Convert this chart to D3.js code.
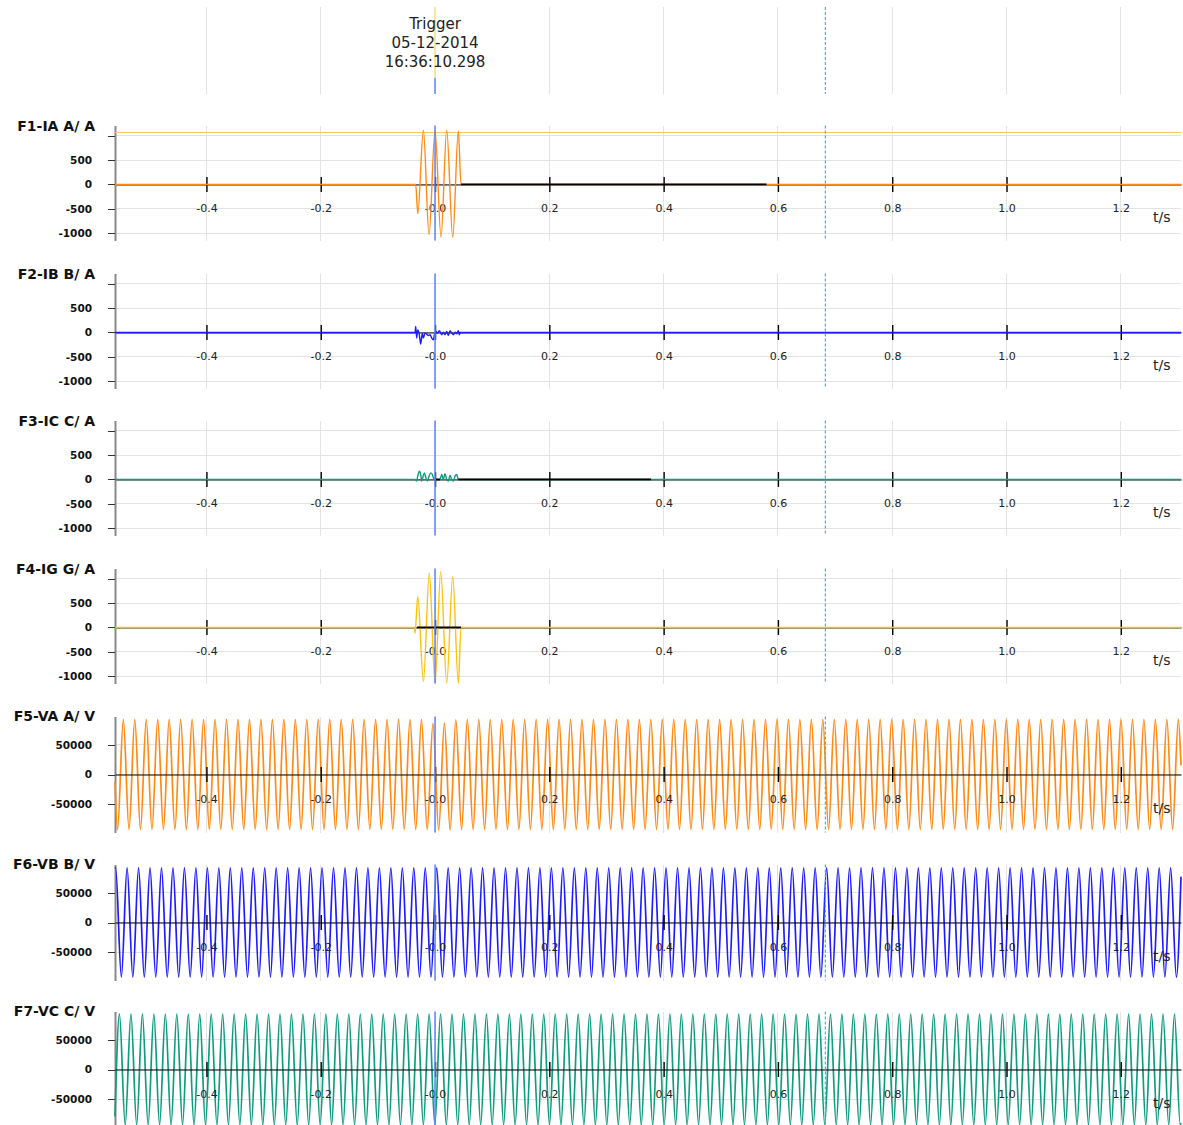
<!DOCTYPE html>
<html>
<head>
<meta charset="utf-8">
<script src="https://cdnjs.cloudflare.com/ajax/libs/d3/7.8.5/d3.min.js"></script>
<style>
  body { margin: 0; background: #fff; }
  text { font-family: "DejaVu Sans", sans-serif; }
</style>
</head>
<body>
<div id="chart"></div>
<script>
// time axis
const timeRange = [-0.56, 1.3053];
const xTicks = [-0.4, -0.2, 0.0, 0.2, 0.4, 0.6, 0.8, 1.0, 1.2];
const xTickLabels = ["-0.4", "-0.2", "-0.0", "0.2", "0.4", "0.6", "0.8", "1.0", "1.2"];
const triggerTime = 0.0;
const cursorTime = 0.683;
const triggerText = ["Trigger", "05-12-2014", "16:36:10.298"];

const channelNames = ["F1-IA A/ A", "F2-IB B/ A", "F3-IC C/ A", "F4-IG G/ A", "F5-VA A/ V", "F6-VB B/ V", "F7-VC C/ V"];
const currentTicks = [1000, 500, 0, -500, -1000];
const currentTickLabels = ["", "500", "0", "-500", "-1000"];
const voltageTicks = [50000, 0, -50000];
const voltageTickLabels = ["50000", "0", "-50000"];

// currents (A), flat zero elsewhere
const iaT = [-0.56, -0.0338, -0.0302, -0.0204, -0.0105, 0.0, 0.0105, 0.0204, 0.031, 0.0408, 0.0455, 1.3053];
const iaV = [0, 0, -603, 1111, -1030, 1110, -1084, 1111, -1084, 1097, 0, 0];
const iaLimit = 1075;
const iaBlack = [[0.0455, 0.58]];

const ibT = [-0.56, -0.035, -0.0338, -0.0321, -0.0303, -0.0274, -0.0251, -0.0222, -0.0204, -0.0175, -0.0146,
  -0.0117, -0.0087, -0.0058, -0.0029, -0.0012, 0.0017, 0.0041, 0.0076, 0.0117, 0.0146, 0.0175, 0.0204,
  0.0233, 0.0262, 0.0292, 0.0321, 0.035, 0.0379, 0.0408, 0.0426, 0.0437, 1.3053];
const ibV = [0, 0, 122, -116, 54, -48, -238, -14, -116, -14, -34,
  -61, -48, -116, -150, -48, 20, -14, 34, -48, 7, -48, 20,
  -61, 34, -14, -48, 7, -27, 34, -48, 0, 0];
const ibBlack = [];

const icT = [-0.56, -0.035, -0.0321, -0.0303, -0.0274, -0.0251, -0.0233, -0.0216, -0.0187, -0.0163, -0.0134,
  -0.0105, -0.0076, -0.0047, -0.0029, -0.0012, 0.0087, 0.0117, 0.0146, 0.0175, 0.0204, 0.0233,
  0.0262, 0.0292, 0.0321, 0.035, 0.0379, 0.0397, 0.0408, 1.3053];
const icV = [0, 0, -34, 68, 170, 102, -34, 34, 136, 48, -34,
  68, 136, 102, 34, 0, 0, 102, 0, 116, 0, -34,
  88, 0, -34, 68, 102, 34, 0, 0];
const icBlack = [[0.0017, 0.0087], [0.0408, 0.378]];

const igT = [-0.56, -0.0362, -0.035, -0.0302, -0.0204, -0.01, 0.0, 0.01, 0.0204, 0.031, 0.0408, 0.0455, 1.3053];
const igV = [0, 0, -117, 638, -1111, 1117, -1146, 1152, -1146, 1049, -1146, 0, 0];
const igBlack = [[-0.0315, 0.0455]];

// voltages (kV): one extreme per half cycle, sampled every halfCycle seconds
const halfCycle = 0.010033;
const vaFirst = -0.5555, vaEdge = [-13, 15];
const vaPeaks = [
  -92.5, 92.5, -92.5, 92.5, -92.5, 92.5, -92.5, 92.5, -92.5, 92.5, -92.5, 92.5, -92.5, 92.5, -92.5, 92.5, -92.5, 92.5, -92.5, 92.5,
  -92.5, 92.5, -92.5, 92.5, -92.5, 92.5, -92.5, 92.5, -92.5, 92.5, -92.5, 92.5, -92.5, 92.5, -92.5, 92.5, -92.5, 92.5, -92.5, 92.5,
  -92.5, 92.5, -92.5, 92.5, -92.5, 92.5, -92.5, 92.5, -92.5, 92.5, -92.5, 92.5, -92.5, 92.5, -92.5, 86.0, -93.5, 86.5, -93.5, 92.0,
  -92.5, 92.5, -92.5, 92.5, -92.5, 92.5, -92.5, 92.5, -92.5, 92.5, -92.5, 92.5, -92.5, 92.5, -92.5, 92.5, -92.5, 92.5, -92.5, 92.5,
  -92.5, 92.5, -92.5, 92.5, -92.5, 92.5, -92.5, 92.5, -92.5, 92.5, -92.5, 92.5, -92.5, 92.5, -92.5, 92.5, -92.5, 92.5, -92.5, 92.5,
  -92.5, 92.5, -92.5, 92.5, -92.5, 92.5, -92.5, 92.5, -92.5, 92.5, -92.5, 92.5, -92.5, 92.5, -92.5, 92.5, -92.5, 92.5, -92.5, 92.5,
  -92.5, 92.5, -92.5, 92.5, -92.5, 92.5, -92.5, 92.5, -92.5, 92.5, -92.5, 92.5, -92.5, 92.5, -92.5, 92.5, -92.5, 92.5, -92.5, 92.5,
  -92.5, 92.5, -92.5, 92.5, -92.5, 92.5, -92.5, 92.5, -92.5, 92.5, -92.5, 92.5, -92.5, 92.5, -92.5, 92.5, -92.5, 92.5, -92.5, 92.5,
  -92.5, 92.5, -92.5, 92.5, -92.5, 92.5, -92.5, 92.5, -92.5, 92.5, -92.5, 92.5, -92.5, 92.5, -92.5, 92.5, -92.5, 92.5, -92.5, 92.5,
  -92.5, 92.5, -92.5, 92.5, -92.5, 92.5];
const vbFirst = -0.5589, vbEdge = [91, 77];
const vbPeaks = [
  91.8, -91.8, 91.8, -91.8, 91.8, -91.8, 91.8, -91.8, 91.8, -91.8, 91.8, -91.8, 91.8, -91.8, 91.8, -91.8, 91.8, -91.8, 91.8, -91.8,
  91.8, -91.8, 91.8, -91.8, 91.8, -91.8, 91.8, -91.8, 91.8, -91.8, 91.8, -91.8, 91.8, -91.8, 91.8, -91.8, 91.8, -91.8, 91.8, -91.8,
  91.8, -91.8, 91.8, -91.8, 91.8, -91.8, 91.8, -91.8, 91.8, -91.8, 91.8, -91.8, 91.8, -91.8, 91.8, -91.8, 91.8, -91.8, 91.8, -91.8,
  91.8, -91.8, 91.8, -91.8, 91.8, -91.8, 91.8, -91.8, 91.8, -91.8, 91.8, -91.8, 91.8, -91.8, 91.8, -91.8, 91.8, -91.8, 91.8, -91.8,
  91.8, -91.8, 91.8, -91.8, 91.8, -91.8, 91.8, -91.8, 91.8, -91.8, 91.8, -91.8, 91.8, -91.8, 91.8, -91.8, 91.8, -91.8, 91.8, -91.8,
  91.8, -91.8, 91.8, -91.8, 91.8, -91.8, 91.8, -91.8, 91.8, -91.8, 91.8, -91.8, 91.8, -91.8, 91.8, -91.8, 91.8, -91.8, 91.8, -91.8,
  91.8, -91.8, 91.8, -91.8, 91.8, -91.8, 91.8, -91.8, 91.8, -91.8, 91.8, -91.8, 91.8, -91.8, 91.8, -91.8, 91.8, -91.8, 91.8, -91.8,
  91.8, -91.8, 91.8, -91.8, 91.8, -91.8, 91.8, -91.8, 91.8, -91.8, 91.8, -91.8, 91.8, -91.8, 91.8, -91.8, 91.8, -91.8, 91.8, -91.8,
  91.8, -91.8, 91.8, -91.8, 91.8, -91.8, 91.8, -91.8, 91.8, -91.8, 91.8, -91.8, 91.8, -91.8, 91.8, -91.8, 91.8, -91.8, 91.8, -91.8,
  91.8, -91.8, 91.8, -91.8, 91.8, -91.8];
const vcFirst = -0.5522, vcEdge = [-79, -90];
const vcPeaks = [
  93.0, -93.0, 93.0, -93.0, 93.0, -93.0, 93.0, -93.0, 93.0, -93.0, 93.0, -93.0, 93.0, -93.0, 93.0, -93.0, 93.0, -93.0, 93.0, -93.0,
  93.0, -93.0, 93.0, -93.0, 93.0, -93.0, 93.0, -93.0, 93.0, -93.0, 93.0, -93.0, 93.0, -93.0, 93.0, -93.0, 93.0, -93.0, 93.0, -93.0,
  93.0, -93.0, 93.0, -93.0, 93.0, -93.0, 93.0, -93.0, 93.0, -93.0, 93.0, -93.0, 93.0, -93.0, 93.0, -93.0, 93.0, -93.0, 93.0, -93.0,
  93.0, -93.0, 93.0, -93.0, 93.0, -93.0, 93.0, -93.0, 93.0, -93.0, 93.0, -93.0, 93.0, -93.0, 93.0, -93.0, 93.0, -93.0, 93.0, -93.0,
  93.0, -93.0, 93.0, -93.0, 93.0, -93.0, 93.0, -93.0, 93.0, -93.0, 93.0, -93.0, 93.0, -93.0, 93.0, -93.0, 93.0, -93.0, 93.0, -93.0,
  93.0, -93.0, 93.0, -93.0, 93.0, -93.0, 93.0, -93.0, 93.0, -93.0, 93.0, -93.0, 93.0, -93.0, 93.0, -93.0, 93.0, -93.0, 93.0, -93.0,
  93.0, -93.0, 93.0, -93.0, 93.0, -93.0, 93.0, -93.0, 93.0, -93.0, 93.0, -93.0, 93.0, -93.0, 93.0, -93.0, 93.0, -93.0, 93.0, -93.0,
  93.0, -93.0, 93.0, -93.0, 93.0, -93.0, 93.0, -93.0, 93.0, -93.0, 93.0, -93.0, 93.0, -93.0, 93.0, -93.0, 93.0, -93.0, 93.0, -93.0,
  93.0, -93.0, 93.0, -93.0, 93.0, -93.0, 93.0, -93.0, 93.0, -93.0, 93.0, -93.0, 93.0, -93.0, 93.0, -93.0, 93.0, -93.0, 93.0, -93.0,
  93.0, -93.0, 93.0, -93.0, 93.0, -93.0];

function zipPoints(ts, vs) {
  return ts.map((t, i) => ({ t: t, v: vs[i] }));
}
function sampledPoints(first, peaks, edge) {
  var pts = [{ t: timeRange[0], v: edge[0] * 1000 }];
  peaks.forEach(function (p, k) { pts.push({ t: first + k * halfCycle, v: p * 1000 }); });
  pts.push({ t: timeRange[1], v: edge[1] * 1000 });
  return pts;
}

const orange = "#ff8a14", blue = "#1c1cff", teal = "#0e9e7e", gold = "#ffc10a";

const channels = [
  { name: channelNames[0], kind: "I", color: orange, data: zipPoints(iaT, iaV), black: iaBlack, limit: iaLimit },
  { name: channelNames[1], kind: "I", color: blue, data: zipPoints(ibT, ibV), black: ibBlack },
  { name: channelNames[2], kind: "I", color: teal, data: zipPoints(icT, icV), black: icBlack },
  { name: channelNames[3], kind: "I", color: gold, data: zipPoints(igT, igV), black: igBlack },
  { name: channelNames[4], kind: "V", color: orange, data: sampledPoints(vaFirst, vaPeaks, vaEdge), black: [] },
  { name: channelNames[5], kind: "V", color: blue, data: sampledPoints(vbFirst, vbPeaks, vbEdge), black: [] },
  { name: channelNames[6], kind: "V", color: teal, data: sampledPoints(vcFirst, vcPeaks, vcEdge), black: [] }
];

var W = 1183, H = 1125;
var svg = d3.select("#chart").append("svg").attr("width", W).attr("height", H);
var x = d3.scaleLinear().domain(timeRange).range([115, 1181]);
var gridColor = "#e3e3e3";

// header with the trigger stamp
var header = svg.append("g");
header.selectAll("line.vg").data(xTicks.filter(d => d !== triggerTime)).join("line")
  .attr("x1", d => x(d)).attr("x2", d => x(d)).attr("y1", 7).attr("y2", 94)
  .attr("stroke", gridColor).attr("shape-rendering", "crispEdges");
header.append("line").attr("x1", x(cursorTime)).attr("x2", x(cursorTime)).attr("y1", 7).attr("y2", 94)
  .attr("stroke", "#22bff0").attr("stroke-width", 1.2).attr("stroke-dasharray", "3,2");
header.append("line").attr("x1", x(triggerTime)).attr("x2", x(triggerTime)).attr("y1", 7).attr("y2", 78)
  .attr("stroke", "#f0e27a").attr("stroke-width", 1.5);
header.append("line").attr("x1", x(triggerTime)).attr("x2", x(triggerTime)).attr("y1", 78).attr("y2", 94)
  .attr("stroke", "#5a84ff").attr("stroke-width", 1.5);
header.selectAll("text").data(triggerText).join("text")
  .attr("x", x(triggerTime)).attr("y", (d, i) => 29 + i * 18.8)
  .attr("text-anchor", "middle").style("font-size", "15px").attr("fill", "#222")
  .text(d => d);

channels.forEach(function (ch, i) {
  var zero = Math.round(184 + i * 147.5) + 0.5;
  var isV = ch.kind === "V";
  var top = isV ? zero - 58 : zero - 59;
  var bottom = isV ? zero + 58 : zero + 56;
  var y = d3.scaleLinear().domain(isV ? [-97500, 97500] : [-1150, 1210]).range([bottom, top]);
  var ticks = isV ? voltageTicks : currentTicks;
  var tickLabels = isV ? voltageTickLabels : currentTickLabels;

  var g = svg.append("g");

  // grid
  g.selectAll("line.hg").data(ticks).join("line")
    .attr("x1", x.range()[0]).attr("x2", x.range()[1]).attr("y1", d => y(d)).attr("y2", d => y(d))
    .attr("stroke", gridColor).attr("shape-rendering", "crispEdges");
  g.selectAll("line.vg").data(xTicks).join("line")
    .attr("x1", d => x(d)).attr("x2", d => x(d)).attr("y1", top).attr("y2", bottom)
    .attr("stroke", gridColor).attr("shape-rendering", "crispEdges");

  // time axis through zero (under the trace for currents, over it for voltages)
  function timeAxis() {
    var xa = g.append("g").attr("transform", "translate(0," + y(0) + ")")
      .call(d3.axisBottom(x).tickValues(xTicks).tickSizeOuter(0)
        .tickFormat((d, k) => xTickLabels[k]));
    xa.select(".domain").attr("stroke", "#000");
    xa.selectAll(".tick line").attr("y1", -7.5).attr("y2", 7.5).attr("stroke", "#000").attr("stroke-width", 1.4);
    xa.selectAll(".tick text").attr("y", 28).attr("dy", null)
      .attr("fill", "#222").style("font-size", "11px").style("font-family", "DejaVu Sans");
  }
  if (!isV) timeAxis();

  // value axis
  var ya = g.append("g").attr("transform", "translate(" + x.range()[0] + ",0)")
    .call(d3.axisLeft(y).tickValues(ticks).tickSize(7).tickPadding(16).tickSizeOuter(0)
      .tickFormat((d, k) => tickLabels[k]));
  ya.select(".domain").attr("stroke", "#888").attr("stroke-width", 2);
  ya.selectAll(".tick line").attr("stroke", "#333").attr("shape-rendering", "crispEdges");
  ya.selectAll(".tick text").attr("fill", "#111")
    .style("font-size", "10.5px").style("font-weight", "bold").style("font-family", "DejaVu Sans");

  g.append("text").attr("x", 95).attr("y", zero - 54).attr("text-anchor", "end")
    .style("font-size", "14px").style("font-weight", "bold").attr("fill", "#111").text(ch.name);

  if (ch.limit !== undefined) {
    g.append("line").attr("x1", x.range()[0]).attr("x2", x.range()[1])
      .attr("y1", y(ch.limit)).attr("y2", y(ch.limit)).attr("stroke", "#f0c860")
      .attr("shape-rendering", "crispEdges");
  }

  // waveform
  g.append("path").datum(ch.data)
    .attr("fill", "none").attr("stroke", ch.color).attr("stroke-width", isV ? 1.7 : 1.4)
    .attr("d", d3.line().x(d => x(d.t)).y(d => y(d.v)).curve(d3.curveMonotoneX));

  g.selectAll("line.blk").data(ch.black).join("line")
    .attr("x1", d => x(d[0])).attr("x2", d => x(d[1])).attr("y1", y(0)).attr("y2", y(0))
    .attr("stroke", "#000").attr("stroke-width", 1.8);

  if (isV) timeAxis();
  g.append("text").attr("x", 1153).attr("y", y(0) + 38).style("font-size", "14px").attr("fill", "#222").text("t/s");

  // cursors
  g.append("line").attr("x1", x(cursorTime)).attr("x2", x(cursorTime)).attr("y1", top).attr("y2", bottom)
    .attr("stroke", "#22bff0").attr("stroke-width", 1.2).attr("stroke-dasharray", "3,2");
  g.append("line").attr("x1", x(triggerTime)).attr("x2", x(triggerTime)).attr("y1", top).attr("y2", bottom)
    .attr("stroke", "#5a84ff").attr("stroke-width", 1.5);
});
</script>
</body>
</html>
